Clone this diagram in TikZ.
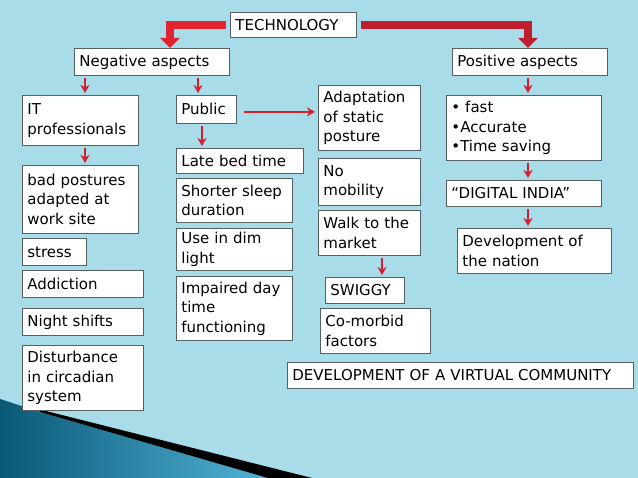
\documentclass[tikz,border=0pt]{standalone}
\usepackage{fontspec}
\setmainfont{DejaVu Sans}
\usetikzlibrary{arrows.meta,calc}
\definecolor{bg}{RGB}{168,220,232}
\definecolor{boxgray}{RGB}{85,95,100}
\definecolor{redL}{RGB}{226,36,48}
\definecolor{redR}{RGB}{190,30,45}
\definecolor{redT}{RGB}{212,32,46}
\definecolor{tealD}{RGB}{10,88,118}
\definecolor{tealL}{RGB}{80,180,215}
\newcommand\bx[6]{\node[box, minimum width=#4pt, minimum height=#5pt, text width=\the\dimexpr#4pt-10pt\relax] (#1) at (#2,#3) {#6};}
\begin{document}
\begin{tikzpicture}[x=1pt,y=-1pt,
  box/.style={draw=boxgray, line width=0.8pt, fill=white, anchor=north west,
    inner xsep=5pt, inner ysep=2pt, align=left, font=\fontsize{15}{19.5}\selectfont},
  bigarrow/.style={line width=7.5pt, line join=miter, -{Triangle[width=19pt,length=10pt]}},
  arr/.style={draw=redT, line width=1.6pt, -{Stealth[length=8pt,width=9pt,inset=2.5pt]}}]
\fill[bg] (0,0) rectangle (638,478);
\useasboundingbox (0,0) rectangle (638,478);
% bottom-left decoration
\shade[left color=tealD, right color=tealL] (0,399) -- (40,412) -- (268,478) -- (0,478) -- cycle;
\fill[black] (34,408) -- (312,478) -- (268,478) -- (40,412) -- cycle;
% boxes
\bx{tech}{230}{12}{126}{25}{TECHNOLOGY}
\bx{neg}{74}{48}{155}{27}{Negative aspects}
\bx{pos}{452}{48}{155}{27}{Positive aspects}
\bx{it}{22}{95}{116}{50}{IT\\professionals}
\bx{pub}{176}{95}{60}{28}{Public}
\bx{adapt}{318}{85}{102}{65}{Adaptation\\of static\\posture}
\bx{fast}{446}{95}{155}{65}{• fast\\•Accurate\\•Time saving}
\bx{late}{176}{148}{127}{25}{Late bed time}
\bx{nomob}{318}{158}{102}{47}{No\\mobility}
\bx{dig}{446}{180}{155}{26}{“DIGITAL INDIA”}
\bx{bad}{22}{165}{116}{68}{bad postures\\adapted at\\work site}
\bx{short}{176}{178}{116}{44}{Shorter sleep\\duration}
\bx{walk}{318}{210}{102}{45}{Walk to the\\market}
\bx{dim}{176}{228}{116}{42}{Use in dim\\light}
\bx{dev}{457}{228}{154}{45}{Development of\\the nation}
\bx{stress}{22}{238}{64}{27}{stress}
\bx{add}{22}{270}{121}{27}{Addiction}
\bx{impair}{176}{276}{116}{64}{Impaired day\\time\\functioning}
\bx{swig}{325}{277}{79}{26}{SWIGGY}
\bx{night}{22}{308}{121}{27}{Night shifts}
\bx{comorb}{320}{308}{110}{45}{Co-morbid\\factors}
\bx{circ}{22}{345}{121}{65}{Disturbance\\in circadian\\system}
\bx{virt}{287}{362}{346}{26}{DEVELOPMENT OF A VIRTUAL COMMUNITY}
% thick arrows
\draw[bigarrow, redL] ([xshift=-4pt]tech.west) -| ([xshift=96pt]neg.north west);
\draw[bigarrow, redR] ([xshift=4pt]tech.east) -| ([xshift=76pt]pos.north west);
% thin arrows
\draw[arr] ([xshift=11pt,yshift=-2pt]neg.south west) -- ([xshift=63pt,yshift=2pt]it.north west);
\draw[arr] ([xshift=124pt,yshift=-2pt]neg.south west) -- ([xshift=22pt,yshift=2pt]pub.north west);
\draw[arr] ([xshift=63pt,yshift=-2pt]it.south west) -- ([xshift=63pt,yshift=2pt]bad.north west);
\draw[arr] ([xshift=26pt,yshift=-2pt]pub.south west) -- ([xshift=26pt,yshift=2pt]late.north west);
\draw[arr, line width=1.9pt] ($(pub.east)+(7,2.5)$) -- ($(pub.east -| adapt.west)+(-3,2.5)$);
\draw[arr] ([xshift=76pt,yshift=-2pt]pos.south west) -- ([xshift=82pt,yshift=2pt]fast.north west);
\draw[arr] ([xshift=82pt,yshift=-2pt]fast.south west) -- ([xshift=82pt,yshift=2pt]dig.north west);
\draw[arr] ([xshift=82pt,yshift=-2pt]dig.south west) -- ([xshift=71pt,yshift=2pt]dev.north west);
\draw[arr] ([xshift=64pt,yshift=-2pt]walk.south west) -- ([xshift=57pt,yshift=2pt]swig.north west);
\end{tikzpicture}
\end{document}
